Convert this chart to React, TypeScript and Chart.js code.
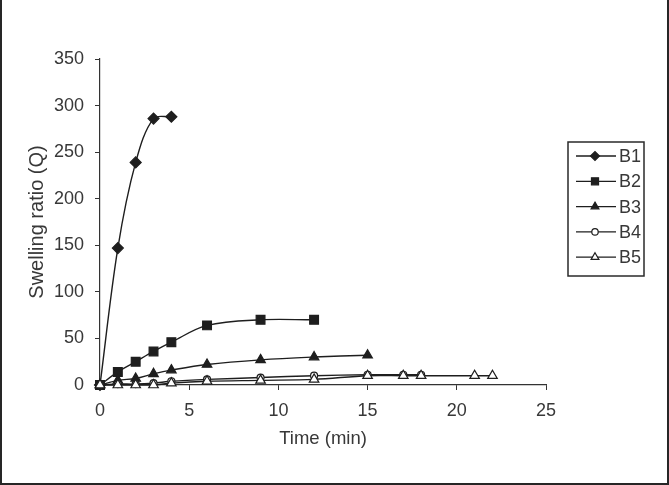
import React, { useEffect, useRef } from "react";
import { Chart, registerables } from "chart.js";
import { drawPoint } from "chart.js/helpers";

Chart.register(...registerables);

const seriesNames = ["B1", "B2", "B3", "B4", "B5"];
const b1Time = [0, 1, 2, 3, 4];
const b1Q = [0, 147, 239, 286, 288];
const b2Time = [0, 1, 2, 3, 4, 6, 9, 12];
const b2Q = [0, 14, 25, 36, 46, 64, 70, 70];
const b3Time = [0, 1, 2, 3, 4, 6, 9, 12, 15];
const b3Q = [0, 5, 7, 12, 16, 22, 27, 30, 32];
const b4Time = [0, 1, 2, 3, 4, 6, 9, 12, 15, 17, 18];
const b4Q = [0, 1, 1, 2, 4, 6, 8, 10, 11, 11, 11];
const b5Time = [0, 1, 2, 3, 4, 6, 9, 12, 15, 17, 18, 21, 22];
const b5Q = [0, 0, 0, 0, 2, 4, 5, 6, 10, 10, 10, 10, 10];
const xTicks = [0, 5, 10, 15, 20, 25];
const yTicks = [0, 50, 100, 150, 200, 250, 300, 350];
const xTitle = "Time (min)";
const yTitle = "Swelling ratio (Q)";

const INK = "#1e1e1e";
const TEXT = "#383838";
const FONT = "'Liberation Sans', Arial, sans-serif";

const times = [b1Time, b2Time, b3Time, b4Time, b5Time];
const values = [b1Q, b2Q, b3Q, b4Q, b5Q];
const styles = [
  { pointStyle: "rectRot", radius: 5.5, fill: INK, legendRadius: 4.5 },
  { pointStyle: "rect", radius: 6.2, fill: INK, legendRadius: 5 },
  { pointStyle: "triangle", radius: 5.5, fill: INK, legendRadius: 4.5 },
  { pointStyle: "circle", radius: 3.5, fill: "#ffffff", legendRadius: 3.2 },
  { pointStyle: "triangle", radius: 5.5, fill: "#ffffff", legendRadius: 4.5 },
];

const framePlugin = {
  id: "frame",
  afterDraw(chart: any) {
    const { ctx, width, height } = chart;
    ctx.save();
    ctx.fillStyle = "#262626";
    ctx.fillRect(0, 0, 2, height);
    ctx.fillRect(width - 2, 0, 2, height);
    ctx.fillRect(0, height - 2, width, 2);
    ctx.restore();
  },
};

const legendPlugin = {
  id: "boxLegend",
  afterDraw(chart: any) {
    const { ctx } = chart;
    ctx.save();
    const bx = 568, by = 142, bw = 76, bh = 134;
    ctx.strokeStyle = "#2a2a2a";
    ctx.lineWidth = 1.5;
    ctx.strokeRect(bx, by, bw, bh);
    ctx.font = `18px ${FONT}`;
    ctx.textBaseline = "middle";
    ctx.textAlign = "left";
    seriesNames.forEach((name, i) => {
      const y = 156 + i * 25.3;
      ctx.strokeStyle = INK;
      ctx.lineWidth = 1.3;
      ctx.beginPath();
      ctx.moveTo(576, y);
      ctx.lineTo(616, y);
      ctx.stroke();
      const st = styles[i];
      ctx.fillStyle = st.fill;
      ctx.strokeStyle = INK;
      ctx.lineWidth = 1.2;
      drawPoint(ctx, { pointStyle: st.pointStyle, radius: st.legendRadius, rotation: 0, borderWidth: 1.2 } as any, 595, y);
      ctx.fillStyle = TEXT;
      ctx.fillText(name, 619, y + 1);
    });
    ctx.restore();
  },
};

export default function App() {
  const ref = useRef<HTMLCanvasElement | null>(null);

  useEffect(() => {
    if (!ref.current) return;
    const datasets = seriesNames.map((name, i) => ({
      label: name,
      data: times[i].map((t, j) => ({ x: t, y: values[i][j] })),
      borderColor: INK,
      borderWidth: 1.4,
      backgroundColor: styles[i].fill,
      pointStyle: styles[i].pointStyle,
      pointRadius: styles[i].radius,
      pointBorderColor: INK,
      pointBackgroundColor: styles[i].fill,
      pointBorderWidth: 1.2,
      tension: 0.35,
      fill: false,
      clip: false as any,
      order: 4 - i,
    }));

    const chart = new Chart(ref.current, {
      type: "line",
      data: { datasets } as any,
      options: {
        animation: false,
        responsive: false,
        maintainAspectRatio: false,
        layout: { padding: { left: 0, right: 123, top: 59, bottom: 0 } },
        plugins: {
          legend: { display: false },
          tooltip: { enabled: false },
        },
        scales: {
          x: {
            type: "linear",
            min: 0,
            max: 25,
            afterBuildTicks: (scale: any) => {
              scale.ticks = xTicks.map((v) => ({ value: v }));
            },
            afterFit: (scale: any) => {
              scale.height = 100;
            },
            ticks: {
              color: TEXT,
              font: { family: FONT, size: 18 },
              padding: 10,
              maxRotation: 0,
            },
            grid: {
              drawOnChartArea: false,
              drawTicks: true,
              tickLength: 5,
              color: "#333333",
              lineWidth: 1,
            },
            border: { display: true, color: "#333333", width: 1.2 },
            title: {
              display: true,
              text: xTitle,
              color: TEXT,
              font: { family: FONT, size: 18.5 },
              padding: { top: 0, bottom: 35 },
            },
          },
          y: {
            type: "linear",
            min: 0,
            max: 350,
            afterBuildTicks: (scale: any) => {
              scale.ticks = yTicks.map((v) => ({ value: v }));
            },
            afterFit: (scale: any) => {
              scale.width = 100;
            },
            ticks: {
              color: TEXT,
              font: { family: FONT, size: 18 },
              padding: 11,
            },
            grid: {
              drawOnChartArea: false,
              drawTicks: true,
              tickLength: 5,
              color: "#333333",
              lineWidth: 1,
            },
            border: { display: true, color: "#333333", width: 1.2 },
            title: {
              display: true,
              text: yTitle,
              color: TEXT,
              font: { family: FONT, size: 20 },
              padding: { top: 25.5, bottom: 0 },
            },
          },
        },
      },
      plugins: [framePlugin, legendPlugin],
    } as any);

    return () => chart.destroy();
  }, []);

  return (
    <div style={{ position: "fixed", left: 0, top: 0, width: 669, height: 485, background: "#ffffff" }}>
      <canvas ref={ref} width={669} height={485} style={{ display: "block", width: 669, height: 485 }} />
    </div>
  );
}
